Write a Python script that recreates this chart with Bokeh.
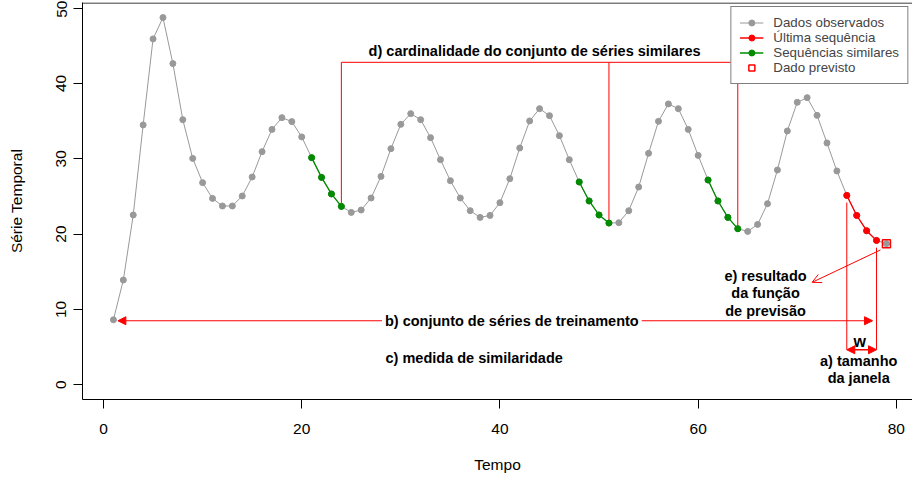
from bokeh.plotting import figure
from bokeh.models import (Range1d, FixedTicker, Legend, LegendItem, Arrow,
                          NormalHead, OpenHead, Span)
from bokeh.core.properties import value
from bokeh.embed import file_html
from bokeh.resources import INLINE

# ---------------- data ----------------
tempo = list(range(1, 80))
serie = [8.63, 13.90, 22.54, 34.49, 45.91, 48.74, 42.63, 35.19, 30.05, 26.83,
         24.74, 23.73, 23.73, 25.06, 27.58, 30.94, 33.90, 35.46, 34.93, 32.90,
         30.15, 27.53, 25.33, 23.68, 22.88, 23.20, 24.79, 27.66, 31.34, 34.57,
         35.99, 35.19, 32.80, 29.88, 27.09, 24.79, 23.11, 22.22, 22.48, 24.17,
         27.36, 31.43, 35.02, 36.65, 35.72, 33.07, 29.88, 26.92, 24.40, 22.54,
         21.47, 21.51, 23.11, 26.25, 30.72, 34.97, 37.28, 36.65, 33.90, 30.45,
         27.18, 24.40, 22.22, 20.72, 20.36, 21.29, 24.04, 28.51, 33.69, 37.49,
         38.11, 35.76, 32.10, 28.38, 25.14, 22.48, 20.45, 19.16, 18.73]
similares = [[21, 22, 23, 24], [48, 49, 50, 51], [61, 62, 63, 64]]
ultima = [75, 76, 77, 78]
previsto_x = [79]
previsto_y = [18.73]

x_ticks = [0, 20, 40, 60, 80]
y_ticks = [0, 10, 20, 30, 40, 50]

legend_labels = ["Dados observados", "Última sequência", "Sequências similares", "Dado previsto"]

# annotation values
card_y = 42.8
card_text = "d) cardinalidade do conjunto de séries similares"
card_pos = (43.5, 44.3)
treino_text = "b) conjunto de séries de treinamento"
treino_arrow = (1.45, 77.6, 8.5)
treino_pos = (41.2, 8.5)
sim_text = "c) medida de similaridade"
sim_pos = (37.4, 3.6)
prev_arrow = (78.4, 17.9, 71.5, 13.6)
prev_lines = ["e) resultado", "da função", "de previsão"]
prev_x = 66.8
prev_y = [14.5, 12.15, 9.85]
janela_tops = [24.2, 18.2]
janela_bottom = 4.65
w_pos = (76.3, 5.8)
jan_lines = ["a) tamanho", "da janela"]
jan_x = 76.2
jan_y = [3.2, 0.9]

GRAY = "#999999"
GREEN = "#008B00"
RED = "#FF0000"
FONT = "Liberation Sans"

Y0, Y1 = -1.95, 50.74
p = figure(width=912, height=480,
           x_range=Range1d(-2.12, 81.63), y_range=Range1d(Y0, Y1),
           output_backend="svg", toolbar_location=None,
           min_border_left=82, min_border_right=0, min_border_top=2,
           min_border_bottom=81)
p.outline_line_color = None
p.xgrid.visible = False
p.ygrid.visible = False
p.background_fill_color = "white"

for ax in (p.xaxis[0], p.yaxis[0]):
    ax.axis_line_color = "black"
    ax.axis_line_width = 1
    ax.major_tick_line_color = "black"
    ax.major_tick_in = 0
    ax.major_tick_out = 9
    ax.minor_tick_line_color = None
    ax.major_label_text_font = FONT
    ax.major_label_text_font_size = "15.5px"
    ax.major_label_text_color = "black"
    ax.axis_label_text_font = FONT
    ax.axis_label_text_font_size = "15.5px"
    ax.axis_label_text_font_style = "normal"
    ax.axis_label_text_color = "black"

p.xaxis.ticker = FixedTicker(ticks=x_ticks)
p.yaxis.ticker = FixedTicker(ticks=y_ticks)
p.xaxis.axis_label = "Tempo"
p.yaxis.axis_label = "Série Temporal"
p.xaxis.major_label_standoff = 15
p.xaxis.axis_label_standoff = 19
p.yaxis.major_label_orientation = "vertical"
p.yaxis.major_label_standoff = 7
p.yaxis.axis_label_standoff = 29

p.add_layout(Span(location=Y1 - 0.07, dimension="width", line_color="black", line_width=1))

# ---------------- annotations (brackets) ----------------
ends = [s[-1] for s in similares]
p.segment(x0=[ends[0]], y0=[card_y], x1=[ends[-1]], y1=[card_y], line_color=RED, line_width=1)
p.segment(x0=ends, y0=[card_y] * len(ends), x1=ends, y1=[serie[e - 1] for e in ends],
          line_color=RED, line_width=1)
p.segment(x0=[ultima[0], ultima[-1]], y0=janela_tops,
          x1=[ultima[0], ultima[-1]], y1=[janela_bottom, janela_bottom],
          line_color=RED, line_width=1)

# ---------------- data series ----------------
r_gl = p.line(tempo, serie, line_color=GRAY, line_width=1)
r_gp = p.scatter(tempo, serie, size=6, color=GRAY)

green_r = []
for seg in similares:
    ys = [serie[i - 1] for i in seg]
    gl = p.line(seg, ys, line_color=GREEN, line_width=1.3)
    gp = p.scatter(seg, ys, size=6, color=GREEN)
    green_r.append((gl, gp))

ry = [serie[i - 1] for i in ultima]
r_rl = p.line(ultima, ry, line_color=RED, line_width=1.3)
r_rp = p.scatter(ultima, ry, size=6, color=RED)

r_sq = p.scatter(previsto_x, previsto_y, marker="square", size=8,
                 fill_color=None, line_color=RED, line_width=1.5)

# ---------------- arrows ----------------
def nhead():
    return NormalHead(size=8, fill_color=RED, line_color=RED, line_width=1)

p.add_layout(Arrow(start=nhead(), end=nhead(),
                   x_start=treino_arrow[0], y_start=treino_arrow[2],
                   x_end=treino_arrow[1], y_end=treino_arrow[2],
                   line_color=RED, line_width=1))
p.add_layout(Arrow(start=nhead(), end=nhead(),
                   x_start=ultima[0], y_start=janela_bottom,
                   x_end=ultima[-1], y_end=janela_bottom,
                   line_color=RED, line_width=1.5))
p.add_layout(Arrow(end=OpenHead(size=9, line_color=RED, line_width=1),
                   x_start=prev_arrow[0], y_start=prev_arrow[1],
                   x_end=prev_arrow[2], y_end=prev_arrow[3],
                   line_color=RED, line_width=1))

# ---------------- texts ----------------
def btext(xs, ys, texts, size="14.5px", bg=None):
    kw = {}
    if bg:
        kw = dict(background_fill_color=bg, padding=3)
    r = p.text(x=xs, y=ys, text=texts, text_font=value(FONT), text_font_style="bold",
               text_font_size=size, text_align="center", text_baseline="middle",
               text_color="black", **kw)
    r.level = "overlay"
    return r

btext([card_pos[0]], [card_pos[1]], [card_text])
btext([treino_pos[0]], [treino_pos[1]], [treino_text], bg="white")
btext([sim_pos[0]], [sim_pos[1]], [sim_text])
btext([prev_x] * len(prev_lines), prev_y, prev_lines)
btext([w_pos[0]], [w_pos[1]], ["w"], size="16px")
btext([jan_x] * len(jan_lines), jan_y, jan_lines)

# ---------------- legend ----------------
legend = Legend(items=[
    LegendItem(label=legend_labels[0], renderers=[r_gl, r_gp]),
    LegendItem(label=legend_labels[1], renderers=[r_rl, r_rp]),
    LegendItem(label=legend_labels[2], renderers=list(green_r[0])),
    LegendItem(label=legend_labels[3], renderers=[r_sq]),
], location="top_right")
legend.margin = 4
legend.padding = 8
legend.spacing = 0
legend.glyph_width = 24
legend.glyph_height = 15
legend.label_height = 15
legend.label_standoff = 10
legend.label_text_font = FONT
legend.label_text_font_size = "13.3px"
legend.border_line_color = "black"
legend.border_line_width = 1
legend.background_fill_alpha = 1
p.add_layout(legend)

open("out.html", "w").write(file_html(p, INLINE))
